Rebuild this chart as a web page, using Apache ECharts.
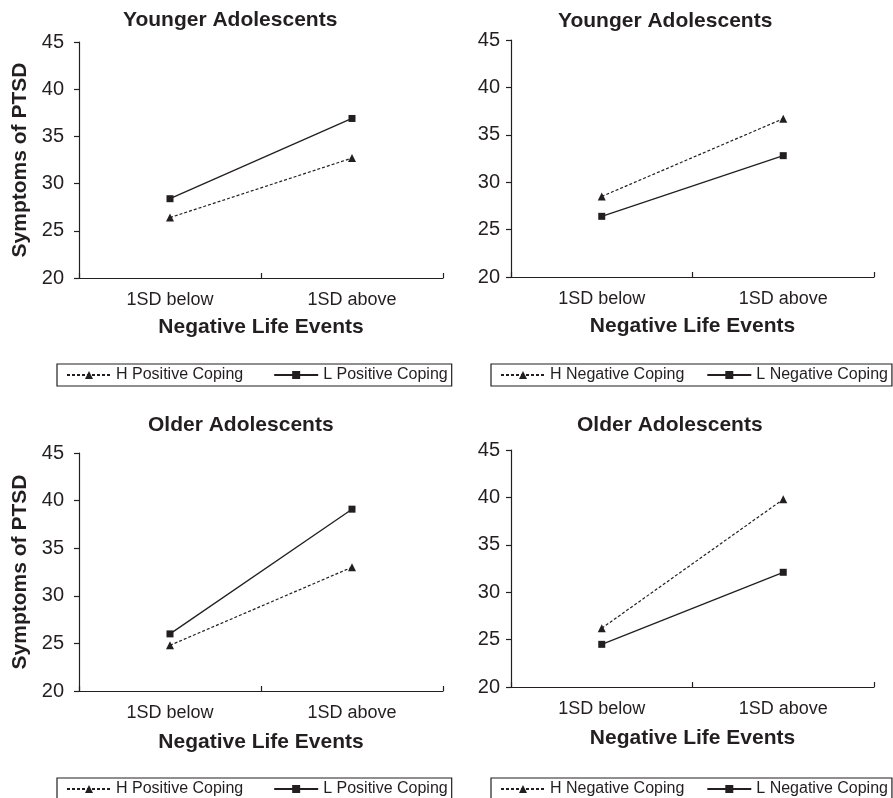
<!DOCTYPE html>
<html><head><meta charset="utf-8">
<script src="https://cdn.jsdelivr.net/npm/echarts@6/dist/echarts.min.js"></script>
<style>html,body{margin:0;padding:0;background:#fff}#c{width:893px;height:798px}</style>
</head><body><div id="c"></div>
<script>
const categories = ['1SD below', '1SD above'];
const yTicks = [20, 25, 30, 35, 40, 45];
const panelTitles = ['Younger Adolescents', 'Younger Adolescents', 'Older Adolescents', 'Older Adolescents'];
const xName = 'Negative Life Events';
const yName = 'Symptoms of PTSD';
const legendPos = [['H Positive Coping', 'L Positive Coping'], ['H Negative Coping', 'L Negative Coping'], ['H Positive Coping', 'L Positive Coping'], ['H Negative Coping', 'L Negative Coping']];
// values
const youngPosH = [26.4, 32.7];
const youngPosL = [28.4, 36.9];
const youngNegH = [28.5, 36.7];
const youngNegL = [26.4, 32.8];
const olderPosH = [24.8, 33.0];
const olderPosL = [26.0, 39.1];
const olderNegH = [26.2, 39.8];
const olderNegL = [24.5, 32.1];

const hSeries = [youngPosH, youngNegH, olderPosH, olderNegH];
const lSeries = [youngPosL, youngNegL, olderPosL, olderNegL];

const FONT = '"Liberation Sans", Arial, sans-serif';
const INK = '#231f20';

const grids = [
  {left: 79, top: 42, width: 364, height: 236},
  {left: 511, top: 40, width: 363, height: 237},
  {left: 79, top: 453, width: 364, height: 238},
  {left: 511, top: 450, width: 363, height: 237}
];
const titlePos = [[123, 10], [558, 11], [148, 415], [577, 415]];
const legendXY = [[57, 364], [491, 364], [57, 778], [491, 778]];
const legendGap = [30, 22, 30, 22];
const yLabelMargin = [15, 11, 15, 11];
const xNameGap = [39, 39, 41, 41];

const option = {
  backgroundColor: '#fff',
  animation: false,
  textStyle: {fontFamily: FONT, color: INK},
  title: panelTitles.map((t, i) => ({
    text: t, left: titlePos[i][0], top: titlePos[i][1], padding: 0,
    textStyle: {fontFamily: FONT, fontSize: 21, fontWeight: 'bold', color: INK}
  })),
  grid: grids.map(g => Object.assign({containLabel: false}, g)),
  xAxis: grids.map((g, i) => ({
    type: 'category', gridIndex: i, data: categories, boundaryGap: true,
    axisLine: {show: true, lineStyle: {color: INK, width: 1.2}},
    axisTick: {show: true, inside: true, length: 5, lineStyle: {color: INK, width: 1.2}},
    axisLabel: {fontFamily: FONT, fontSize: 18, color: INK, margin: 13},
    name: xName, nameLocation: 'middle', nameGap: xNameGap[i],
    nameTextStyle: {fontFamily: FONT, fontSize: 21, fontWeight: 'bold', color: INK},
    splitLine: {show: false}
  })),
  yAxis: grids.map((g, i) => ({
    type: 'value', gridIndex: i, min: yTicks[0], max: yTicks[yTicks.length - 1], interval: 5,
    axisLine: {show: true, lineStyle: {color: INK, width: 1.2}},
    axisTick: {show: true, inside: false, length: 5, lineStyle: {color: INK, width: 1.2}},
    axisLabel: {fontFamily: FONT, fontSize: 20, color: INK, margin: yLabelMargin[i]},
    splitLine: {show: false},
    name: (i % 2 === 0) ? yName : '', nameLocation: 'middle', nameGap: 48,
    nameTextStyle: {fontFamily: FONT, fontSize: 21, fontWeight: 'bold', color: INK}
  })),
  legend: legendPos.map((names, i) => ({
    data: names, left: legendXY[i][0], top: legendXY[i][1], width: 460,
    orient: 'horizontal', itemWidth: 44, itemHeight: 10, itemGap: legendGap[i],
    padding: [3, 4, 3, 9], borderColor: INK, borderWidth: 1.2, borderRadius: 0,
    textStyle: {fontFamily: FONT, fontSize: 16, color: INK}
  })),
  series: []
};

for (let i = 0; i < 4; i++) {
  option.series.push({
    name: legendPos[i][0], type: 'line', xAxisIndex: i, yAxisIndex: i,
    data: hSeries[i], symbol: 'triangle', symbolSize: 8,
    itemStyle: {color: INK},
    lineStyle: {color: INK, width: 1.2, type: [3, 2]}
  });
  option.series.push({
    name: legendPos[i][1], type: 'line', xAxisIndex: i, yAxisIndex: i,
    data: lSeries[i], symbol: 'rect', symbolSize: 7,
    itemStyle: {color: INK},
    lineStyle: {color: INK, width: 1.3, type: 'solid'}
  });
}

const chart = echarts.init(document.getElementById('c'), null, {renderer: 'canvas'});
chart.setOption(option);
</script>
</body></html>
